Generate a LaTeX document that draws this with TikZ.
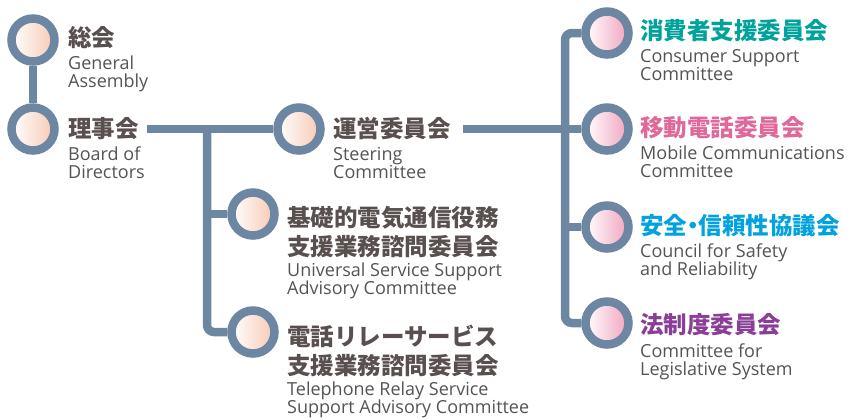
\documentclass[tikz,border=0pt]{standalone}
\usepackage{fontspec}
\setmainfont{Open Sans}
\newfontfamily\jpfont{Noto Sans CJK JP}
\usetikzlibrary{positioning}
\definecolor{ringblue}{HTML}{6D87A2}
\definecolor{peach}{HTML}{F7C9B3}
\definecolor{rose}{HTML}{F2A3BD}
\definecolor{jpgray}{HTML}{594F4F}
\definecolor{engray}{HTML}{555353}
\definecolor{tealtext}{HTML}{00A39B}
\definecolor{pinktext}{HTML}{E0689A}
\definecolor{cyantext}{HTML}{00A2DF}
\definecolor{purpletext}{HTML}{8A3F97}
\tikzset{
  ring/.style={circle, draw=ringblue, line width=8.5bp, minimum size=43bp, inner sep=0pt},
  warmring/.style={ring, left color=white, right color=peach},
  pinkring/.style={ring, left color=white, right color=rose},
  conn/.style={draw=ringblue, line width=8.5bp},
  % base anchor = baseline of the last line
  jptitle/.style={anchor=base west, inner sep=0pt, align=left, text=jpgray,
    font=\jpfont\bfseries\fontsize{23.5bp}{29bp}\selectfont},
  entext/.style={anchor=base west, inner sep=0pt, align=left, text=engray,
    font=\fontsize{18bp}{18bp}\selectfont},
}

\begin{document}
\begin{tikzpicture}[x=1bp,y=-1bp]
  \useasboundingbox (0,0) rectangle (849,419);
  % Circles
  \node[warmring] (ga) at (33,40) {};
  \node[warmring] (bod) at (33,129) {};
  \node[warmring] (steer) at (299,129) {};
  \node[warmring] (univ) at (253,214) {};
  \node[warmring] (relay) at (253,332) {};
  \node[pinkring] (cons) at (607,33) {};
  \node[pinkring] (mobile) at (607,129) {};
  \node[pinkring] (safety) at (607,227) {};
  \node[pinkring] (legis) at (607,323) {};
  % Titles
  \node[jptitle] (gajp) at (68,46) {総会};
  \node[entext] (gaen) at (68,87) {General\\Assembly};
  \node[jptitle] (bodjp) at (68,137) {理事会};
  \node[entext] (boden) at (68,178) {Board of\\Directors};
  \node[jptitle] (steerjp) at (333,137) {運営委員会};
  \node[entext] (steeren) at (333,178) {Steering\\Committee};
  \node[jptitle] (univjp) at (287,255) {基礎的電気通信役務\\支援業務諮問委員会};
  \node[entext] (univen) at (287,294) {Universal Service Support\\Advisory Committee};
  \node[jptitle] (relayjp) at (287,374) {電話リレーサービス\\支援業務諮問委員会};
  \node[entext] (relayen) at (287,413) {Telephone Relay Service\\Support Advisory Committee};
  \node[jptitle, text=tealtext] (consjp) at (640,39) {消費者支援委員会};
  \node[entext] (consen) at (640,80) {Consumer Support\\Committee};
  \node[jptitle, text=pinktext] (mobilejp) at (640,136) {移動電話委員会};
  \node[entext] (mobileen) at (640,177) {Mobile Communications\\Committee};
  \node[jptitle, text=cyantext] (safetyjp) at (640,234)
    {安全\hspace{-0.25em}・\hspace{-0.25em}信頼性協議会};
  \node[entext] (safetyen) at (640,275) {Council for Safety\\and Reliability};
  \node[jptitle, text=purpletext] (legisjp) at (640,333) {法制度委員会};
  \node[entext] (legisen) at (640,375) {Committee for\\Legislative System};
  % Connectors
  \coordinate (bodend) at ([xshift=8bp]bodjp.east);
  \coordinate (steerend) at ([xshift=12bp]steerjp.east);
  \coordinate (lb) at (207,129);
  \coordinate (rb) at (565,129);
  \draw[conn] (ga) -- (bod);
  \draw[conn] (bodend |- bod) -- (steer);
  \draw[conn, rounded corners=7bp] (lb) |- (relay);
  \draw[conn] (lb |- univ) -- (univ);
  \draw[conn] (steerend |- steer) -- (mobile);
  \draw[conn, rounded corners=7bp] (cons) -| (rb) |- (legis);
  \draw[conn] (rb |- safety) -- (safety);
\end{tikzpicture}
\end{document}
